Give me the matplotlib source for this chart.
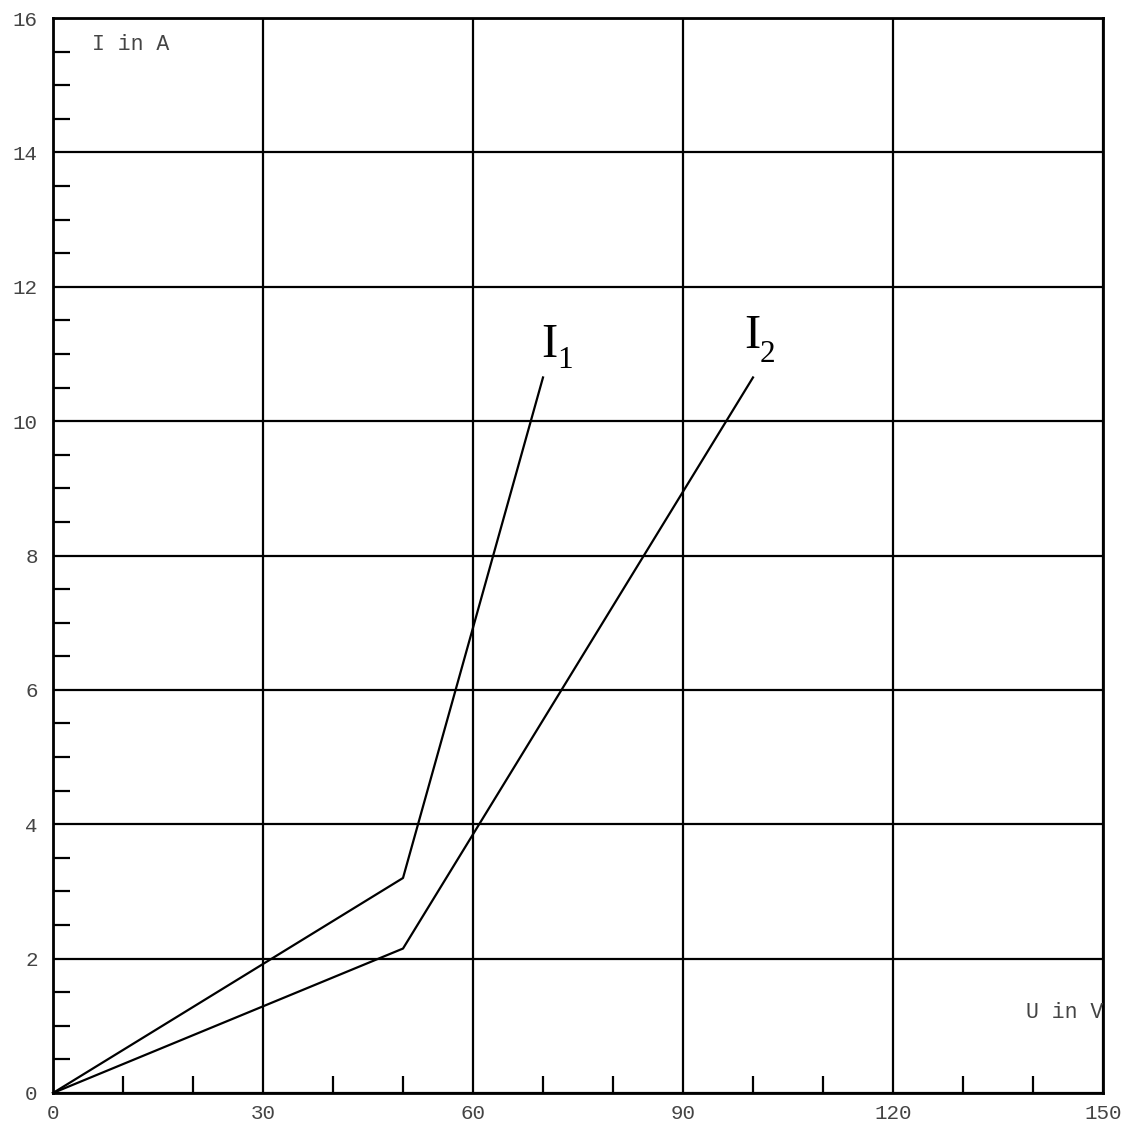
import matplotlib
matplotlib.use('Agg')
import matplotlib.pyplot as plt
import numpy as np

# U in V, I in A
u1 = [0, 50, 70]
i1 = [0, 3.2, 10.65]
u2 = [0, 50, 100]
i2 = [0, 2.15, 10.65]

x_major = [0, 30, 60, 90, 120, 150]
y_major = [0, 2, 4, 6, 8, 10, 12, 14, 16]

fig = plt.figure(figsize=(11.25, 11.27), dpi=100)
ax = fig.add_axes([53 / 1125, 34 / 1127, 1050 / 1125, 1075 / 1127])

ax.plot(u1, i1, color='black', lw=1.6, clip_on=False)
ax.plot(u2, i2, color='black', lw=1.6, clip_on=False)

ax.set_xlim(0, 150)
ax.set_ylim(0, 16)
ax.set_xticks(x_major)
ax.set_yticks(y_major)
ax.set_xticks(np.arange(0, 151, 10), minor=True)
ax.set_yticks(np.arange(0, 16.1, 0.5), minor=True)
ax.grid(True, which='major', color='black', lw=1.6)

mono = 'Liberation Mono'
txtcol = '#444444'
ax.tick_params(which='major', length=0, labelsize=15, labelcolor=txtcol)
ax.tick_params(axis='y', which='major', pad=11)
ax.tick_params(axis='x', which='major', pad=8)
ax.tick_params(which='minor', direction='in', length=12, width=1.6, color='black')
for lab in ax.get_xticklabels() + ax.get_yticklabels():
    lab.set_fontfamily(mono)
for s in ax.spines.values():
    s.set_linewidth(2)

ax.text(5.6, 15.6, 'I in A', family=mono, fontsize=15.5, color=txtcol, va='center')
ax.text(150, 1.2, 'U in V', family=mono, fontsize=15.5, color=txtcol, va='center', ha='right')

# curve labels: I with subscript
serif = 'Liberation Serif'
ax.text(69.8, 10.95, 'I', family=serif, fontsize=35, va='baseline', ha='left')
ax.text(72.0, 10.79, '1', family=serif, fontsize=22.5, va='baseline', ha='left')
ax.text(98.7, 11.09, 'I', family=serif, fontsize=35, va='baseline', ha='left')
ax.text(100.9, 10.88, '2', family=serif, fontsize=22.5, va='baseline', ha='left')

fig.savefig('out.png', dpi=100)
